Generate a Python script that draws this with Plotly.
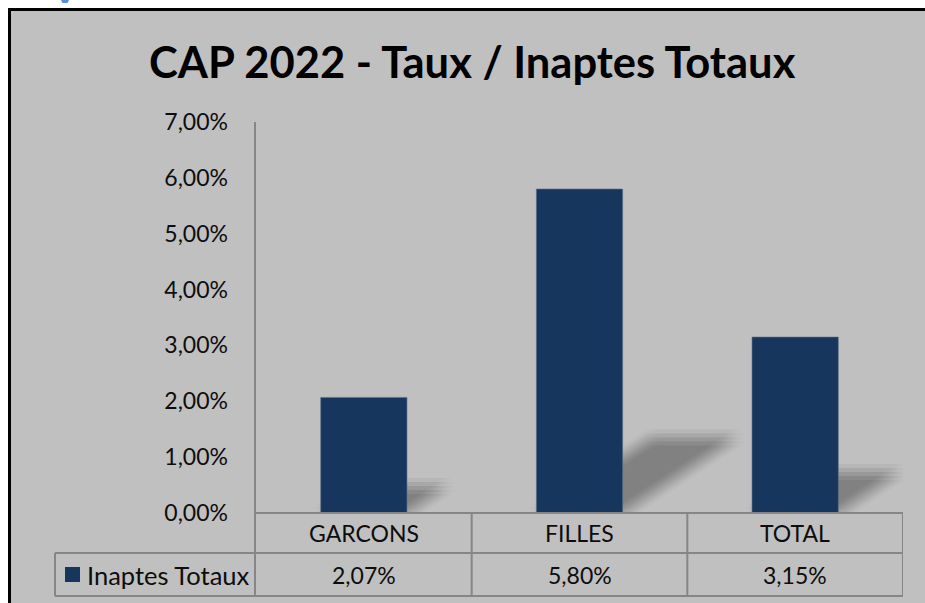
import plotly.graph_objects as go

# ---- data ----
categories = ["GARCONS", "FILLES", "TOTAL"]
values = [0.0207, 0.0580, 0.0315]
series_name = "Inaptes Totaux"
title_text = "CAP 2022 - Taux / Inaptes Totaux"
y_ticks = [0, 0.01, 0.02, 0.03, 0.04, 0.05, 0.06, 0.07]

BAR = "#17365d"
BG = "#c0c0c0"
GRID = "#868686"
FONT = "Lato, Calibri, sans-serif"
TXT = "#0d0d0d"

W, H = 925, 603
L, R, T, B = 256, 903, 122, 513  # plot area in pixels
PX_X = 1.0 / 215.67          # category units per pixel
PX_Y = 0.07 / (B - T)        # value units per pixel


def xp(px):
    return (px - L) / (R - L)


def yp(py):
    return (B - py) / (B - T)


def fmt(v):
    return f"{v*100:.2f}".replace(".", ",") + "%"


fig = go.Figure()
fig.add_trace(go.Bar(
    x=list(range(len(categories))), y=values, width=0.4,
    marker=dict(color=BAR, line=dict(color="#5a6f8a", width=0.6)),
    name=series_name, showlegend=False, hoverinfo="skip"))

shapes = []
# chart area background + top/left border
shapes.append(dict(type="rect", xref="paper", yref="paper",
                   x0=xp(10), x1=xp(925), y0=yp(9), y1=yp(603),
                   fillcolor=BG, line=dict(width=0), layer="below"))
shapes.append(dict(type="line", xref="paper", yref="paper",
                   x0=xp(8.5), x1=xp(925), y0=yp(9.5), y1=yp(9.5),
                   line=dict(color="black", width=3), layer="below"))
shapes.append(dict(type="line", xref="paper", yref="paper",
                   x0=xp(9.5), x1=xp(9.5), y0=yp(8), y1=yp(603),
                   line=dict(color="black", width=3), layer="below"))
# cut-off heading fragment above the chart
shapes.append(dict(type="path", xref="paper", yref="paper",
                   path=f"M {xp(61)},{yp(0)} L {xp(69)},{yp(0)} L {xp(67.5)},{yp(3)} "
                        f"L {xp(62.5)},{yp(3)} Z",
                   fillcolor="#5b8fd0", line=dict(width=0)))

# bar shadows (sheared, blurred by stacking shifted copies)
half = 0.2
steps = (-8, -4, 0, 4, 8)
offsets = [(ox, oy) for ox in steps for oy in steps if ox * ox + oy * oy <= 80]
alpha = 1 - (1 - 0.30) ** (1.0 / len(offsets))
for i, v in enumerate(values):
    h = v * 100
    dxc = 19.8 * h * PX_X
    dyv = 13.0 * h * PX_Y
    for ox, oy in offsets:
        ax = ox * PX_X
        ay = oy * PX_Y
        path = (f"M {i-half+ax},{ay} L {i+half+ax},{ay} "
                f"L {i+half+dxc+ax},{dyv+ay} L {i-half+dxc+ax},{dyv+ay} Z")
        shapes.append(dict(type="path", xref="x", yref="y", path=path,
                           fillcolor=f"rgba(0,0,0,{alpha:.4f})",
                           line=dict(width=0), layer="below"))

# table lines
line = dict(color=GRID, width=2)
shapes.append(dict(type="line", xref="paper", yref="paper",
                   x0=xp(255), x1=xp(255), y0=yp(122), y1=yp(596), line=line))
for j in range(1, len(categories) + 1):
    xx = j - 0.5
    shapes.append(dict(type="line", xref="x", yref="paper",
                       x0=xx, x1=xx, y0=yp(513), y1=yp(596), line=line))
shapes.append(dict(type="line", xref="paper", yref="paper",
                   x0=xp(255), x1=xp(903), y0=yp(513), y1=yp(513), line=line))
shapes.append(dict(type="line", xref="paper", yref="paper",
                   x0=xp(55), x1=xp(903), y0=yp(553), y1=yp(553), line=line))
shapes.append(dict(type="line", xref="paper", yref="paper",
                   x0=xp(55), x1=xp(903), y0=yp(596), y1=yp(596), line=line))
shapes.append(dict(type="line", xref="paper", yref="paper",
                   x0=xp(55), x1=xp(55), y0=yp(553), y1=yp(596), line=line))
# legend key
shapes.append(dict(type="rect", xref="paper", yref="paper",
                   x0=xp(65), x1=xp(80), y0=yp(567), y1=yp(582),
                   fillcolor=BAR, line=dict(width=0)))

annotations = []
for i, (c, v) in enumerate(zip(categories, values)):
    annotations.append(dict(x=i, xref="x", y=yp(533), yref="paper", text=c,
                            showarrow=False, xanchor="center", yanchor="middle",
                            font=dict(family=FONT, size=23, color=TXT)))
    annotations.append(dict(x=i, xref="x", y=yp(575), yref="paper", text=fmt(v),
                            showarrow=False, xanchor="center", yanchor="middle",
                            font=dict(family=FONT, size=23, color=TXT)))
annotations.append(dict(x=xp(85), xref="paper", y=yp(575), yref="paper",
                        text=series_name, showarrow=False, xanchor="left",
                        yanchor="middle",
                        font=dict(family=FONT, size=25.5, color=TXT)))
annotations.append(dict(x=xp(472), xref="paper", y=yp(61), yref="paper",
                        text=f"<b>{title_text}</b>", showarrow=False,
                        xanchor="center", yanchor="middle",
                        font=dict(family=FONT, size=43.5, color="black")))

fig.update_layout(
    width=W, height=H,
    margin=dict(l=L, r=W - R, t=T, b=H - B, pad=0),
    paper_bgcolor="white", plot_bgcolor="rgba(0,0,0,0)",
    separators=", ",
    shapes=shapes, annotations=annotations,
    showlegend=False,
    xaxis=dict(range=[-0.5, 2.5], showticklabels=False, showgrid=False,
               zeroline=False, showline=False, fixedrange=True),
    yaxis=dict(range=[0, 0.07], tickvals=y_ticks, tickformat=".2%",
               showgrid=False, zeroline=False, showline=False,
               ticks="", ticklabelstandoff=27,
               tickfont=dict(family=FONT, size=23, color=TXT),
               fixedrange=True),
)

fig.write_html(
    "out.html",
    config={"displayModeBar": False},
    post_script="document.documentElement.style.overflow='hidden';"
                "document.body.style.margin='0';"
                "document.body.style.padding='0';"
                "document.body.style.overflow='hidden';",
)
